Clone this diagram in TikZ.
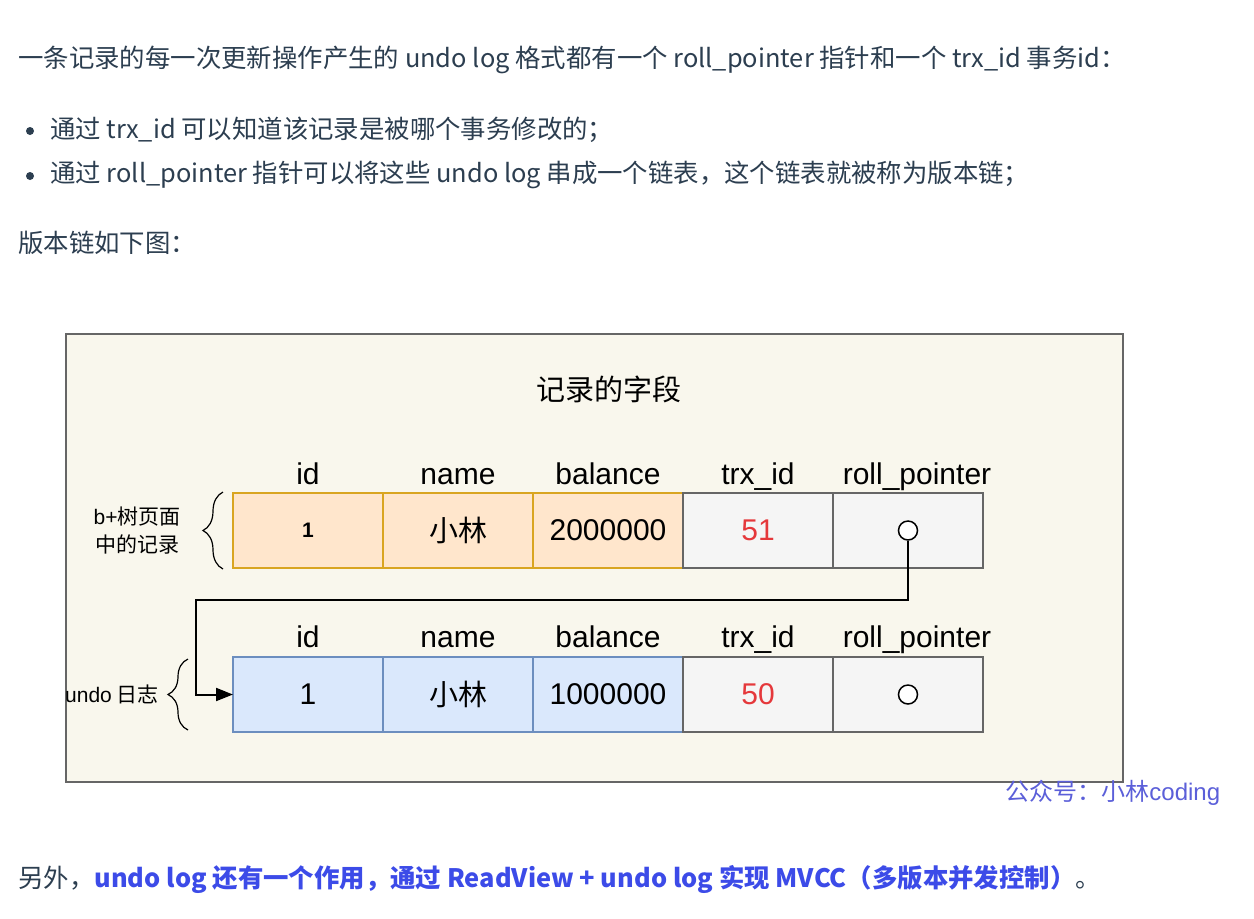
\documentclass[tikz,border=0pt]{standalone}
\usepackage{fontspec}
\setmainfont{Noto Sans CJK SC}
\newfontfamily\hel{Liberation Sans}
\newfontfamily\cjk{Noto Sans CJK SC}
\usepackage{xcolor}
\usetikzlibrary{positioning,decorations.pathreplacing,arrows.meta}
\definecolor{bodytext}{HTML}{2C3E50}
\definecolor{framefill}{HTML}{F9F7ED}
\definecolor{framedraw}{HTML}{666666}
\definecolor{orfill}{HTML}{FFE6CC}
\definecolor{ordraw}{HTML}{D9A521}
\definecolor{grfill}{HTML}{F5F5F5}
\definecolor{grdraw}{HTML}{666666}
\definecolor{blfill}{HTML}{DAE8FC}
\definecolor{bldraw}{HTML}{6C8EBF}
\definecolor{trxred}{HTML}{E5383B}
\definecolor{linkblue}{HTML}{3C4BE8}
\definecolor{markblue}{HTML}{5B5FD9}
\tikzset{
  para/.style={anchor=west, inner sep=0pt, text=bodytext, font=\fontsize{12.7pt}{15pt}\selectfont},
  cell/.style={draw, line width=0.75pt, minimum width=75pt, minimum height=37.5pt,
    inner sep=0pt, outer sep=0pt, font=\hel\fontsize{15pt}{18pt}\selectfont},
  orcell/.style={cell, fill=orfill, draw=ordraw},
  grcell/.style={cell, fill=grfill, draw=grdraw},
  blcell/.style={cell, fill=blfill, draw=bldraw},
  hdr/.style={anchor=base, inner sep=0pt, font=\hel\fontsize{15pt}{18pt}\selectfont},
  ptr/.style={circle, draw, fill=white, line width=0.75pt, minimum size=9.5pt, inner sep=0pt},
  side/.style={inner sep=0pt, align=center, font=\fontsize{10.5pt}{14pt}\selectfont},
  curly/.style={decorate, decoration={brace, amplitude=10pt}, line width=0.6pt},
}

\begin{document}
\begin{tikzpicture}[x=0.5pt, y=-0.5pt]
  \useasboundingbox (0,0) rectangle (1254,918);
  \fill[white] (0,0) rectangle (1254,918);
  % text above the figure
  \node[para] (intro) at (18,60) {一条记录的每一次更新操作产生的 undo log 格式都有一个 roll\_pointer 指针和一个 trx\_id 事务id：};
  \node[circle, fill=bodytext, minimum size=4pt, inner sep=0pt] (dot1) at (30,131) {};
  \node[para] (item1) at (50,130) {通过 trx\_id 可以知道该记录是被哪个事务修改的；};
  \node[circle, fill=bodytext, minimum size=4pt, inner sep=0pt] (dot2) at (30,176) {};
  \node[para] (item2) at (50,175) {通过 roll\_pointer 指针可以将这些 undo log 串成一个链表，这个链表就被称为版本链；};
  \node[para] (lead) at (18,243) {版本链如下图：};

  % the figure
  \draw[draw=framedraw, fill=framefill, line width=1pt] (66,334) rectangle (1123,782);
  \node[font=\fontsize{14.5pt}{17pt}\selectfont] (title) at (609,389) {记录的字段};

  \node[orcell] (a1) at (308,530.5) {\bfseries\fontsize{10.5pt}{12pt}\selectfont 1};
  \node[orcell, right=0pt of a1] (a2) {\cjk\fontsize{14.5pt}{17pt}\selectfont 小林};
  \node[orcell, right=0pt of a2] (a3) {2000000};
  \node[grcell, right=0pt of a3, text=trxred] (a4) {51};
  \node[grcell, right=0pt of a4] (a5) {};

  \node[blcell] (b1) at (308,694.5) {1};
  \node[blcell, right=0pt of b1] (b2) {\cjk\fontsize{14.5pt}{17pt}\selectfont 小林};
  \node[blcell, right=0pt of b2] (b3) {1000000};
  \node[grcell, right=0pt of b3, text=trxred] (b4) {50};
  \node[grcell, right=0pt of b4] (b5) {};

  \foreach \c/\t/\dx in {1/id/0, 2/name/0, 3/balance/0, 4/trx\_id/0, 5/roll\_pointer/4.5} {
    \node[hdr] (ha\c) at ([xshift=\dx pt, yshift=4.5pt]a\c.north) {\t};
    \node[hdr] (hb\c) at ([xshift=\dx pt, yshift=5pt]b\c.north) {\t};
  }

  \node[ptr] (pa) at (a5) {};
  \node[ptr] (pb) at (b5) {};

  \coordinate (turn) at (196,600);
  \draw[line width=1pt, -{Triangle[length=8.5pt,width=6.5pt]}] (pa.south) |- (turn) |- (b1.west);

  \draw[curly] ([xshift=-5pt,yshift=-0.5pt]a1.south west) -- ([xshift=-5pt,yshift=0.5pt]a1.north west);
  \node[side, anchor=east] (sidea) at ([xshift=-26pt]a1.west) {{\hel b+}树页面\\中的记录};
  \draw[curly] ([xshift=-22.5pt,yshift=1pt]b1.south west) -- ([xshift=-22.5pt,yshift=-1pt]b1.north west);
  \node[side, anchor=east] (sideb) at ([xshift=-37pt]b1.west) {{\hel undo} 日志};

  \node[anchor=west, inner sep=0pt, text=markblue, font=\fontsize{12pt}{14pt}\selectfont] (mark) at (1005,793) {公众号：小林{\hel coding}};

  % text below the figure
  \node[para] (outro) at (18,879) {另外，{\bfseries\color{linkblue}undo log 还有一个作用，通过 ReadView + undo log 实现 MVCC（多版本并发控制）}。};
\end{tikzpicture}
\end{document}
